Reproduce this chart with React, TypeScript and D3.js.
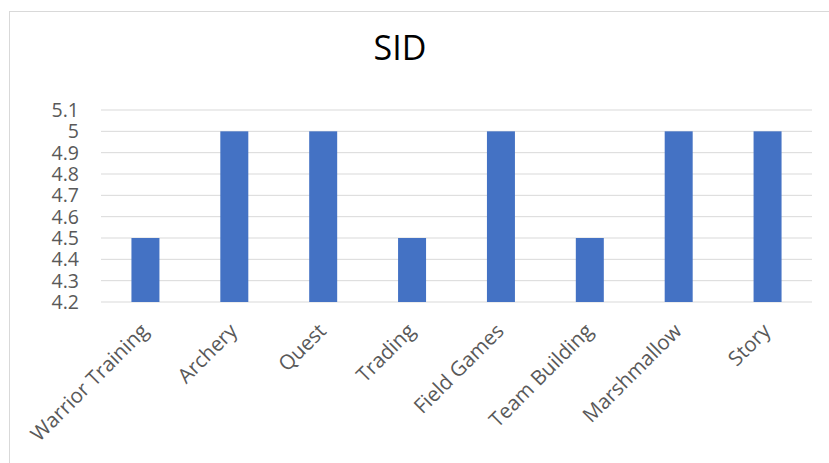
import React from 'react'
import { scaleBand, scaleLinear, range } from 'd3'

const categories = [
  'Warrior Training',
  'Archery',
  'Quest',
  'Trading',
  'Field Games',
  'Team Building',
  'Marshmallow',
  'Story',
]
const sidValues = [4.5, 5, 5, 4.5, 5, 4.5, 5, 5]
const yTicks = [4.2, 4.3, 4.4, 4.5, 4.6, 4.7, 4.8, 4.9, 5, 5.1]

const W = 829
const H = 463
const FONT = '"Open Sans", "Noto Sans", sans-serif'

export default function App(): JSX.Element {
  const x = scaleBand<string>().domain(categories).range([101, 812]).paddingInner(0.685).paddingOuter(0.3425)
  const y = scaleLinear().domain([4.2, 5.1]).range([302, 110])

  return (
    <svg
      width={W}
      height={H}
      style={{ position: 'absolute', left: 0, top: 0 }}
      xmlns="http://www.w3.org/2000/svg"
    >
      <rect x={0} y={0} width={W} height={H} fill="#ffffff" />
      <rect x={9.5} y={11.5} width={W + 10} height={H + 10} fill="none" stroke="#d9d9d9" strokeWidth={1} />

      <text x={400} y={60} textAnchor="middle" fontFamily={FONT} fontSize={34} fill="#000000">
        SID
      </text>

      <g className="grid">
        {yTicks.map((t) => (
          <line key={t} x1={101} x2={812} y1={y(t)} y2={y(t)} stroke="#d9d9d9" strokeWidth={1} />
        ))}
      </g>

      <g className="y-axis">
        {yTicks.map((t) => (
          <text
            key={t}
            x={79}
            y={y(t)}
            dy="0.36em"
            textAnchor="end"
            fontFamily={FONT}
            fontSize={19.5}
            fill="#595959"
          >
            {String(t)}
          </text>
        ))}
      </g>

      <g className="bars">
        {categories.map((c, i) => (
          <rect
            key={c}
            x={x(c)}
            y={y(sidValues[i])}
            width={x.bandwidth()}
            height={y(4.2) - y(sidValues[i])}
            fill="#4472c4"
          />
        ))}
      </g>

      <g className="x-axis">
        {range(categories.length).map((i) => {
          const cx = (x(categories[i]) ?? 0) + x.bandwidth() / 2
          return (
            <text
              key={categories[i]}
              transform={`translate(${cx - 1},${327}) rotate(-45)`}
              textAnchor="end"
              dy="0.36em"
              fontFamily={FONT}
              fontSize={20.5}
              fill="#595959"
            >
              {categories[i]}
            </text>
          )
        })}
      </g>
    </svg>
  )
}
